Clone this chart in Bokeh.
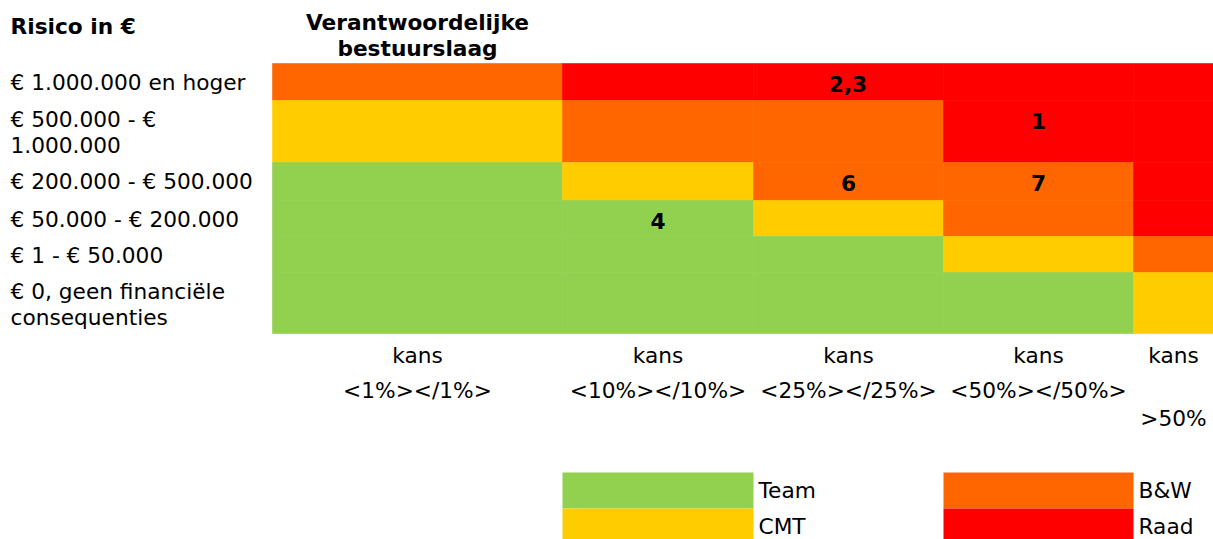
from bokeh.plotting import figure
from bokeh.models import ColumnDataSource, Range1d
from bokeh.core.properties import value
from bokeh.embed import file_html
from bokeh.resources import INLINE

# ---------------- data ----------------
row_labels = [
    "€ 1.000.000 en hoger",
    "€ 500.000 - €\n1.000.000",
    "€ 200.000 - € 500.000",
    "€ 50.000 - € 200.000",
    "€ 1 - € 50.000",
    "€ 0, geen financiële\nconsequenties",
]
col_labels_top = ["kans", "kans", "kans", "kans", "kans"]
col_labels_range = ["<1%></1%>", "<10%></10%>", "<25%></25%>", "<50%></50%>", ">50%"]

levels = ["Team", "CMT", "B&W", "Raad"]
level_colors = {"Team": "#92D050", "CMT": "#FFCC00", "B&W": "#FF6600", "Raad": "#FF0000"}

matrix = [
    ["B&W", "Raad", "Raad", "Raad", "Raad"],
    ["CMT", "B&W", "B&W", "Raad", "Raad"],
    ["Team", "CMT", "B&W", "B&W", "Raad"],
    ["Team", "Team", "CMT", "B&W", "Raad"],
    ["Team", "Team", "Team", "CMT", "B&W"],
    ["Team", "Team", "Team", "Team", "CMT"],
]

# annotations: (row, first col, last col, text)
annotations = [
    (0, 1, 3, "2,3"),
    (1, 3, 3, "1"),
    (2, 2, 2, "6"),
    (2, 3, 3, "7"),
    (3, 1, 1, "4"),
]

title_left = "Risico in €"
title_mid = "Verantwoordelijke\nbestuurslaag"

# ---------------- layout (screen px) ----------------
M = 0
W, H = 1213, 539
col_edges = [272, 562, 753, 943, 1133, 1213]
row_edges = [63, 100, 162, 200, 236, 272, 333]
TXT_OFF = 19      # text line centre below top of a row
LINE_H = 25.5
FONT = value("DejaVu Sans")
FS = "21.7px"

def sx(x):
    return x - M

def sy(y):
    return y - M

p = figure(width=W, height=H, output_backend="svg", toolbar_location=None,
           x_range=Range1d(0, W), y_range=Range1d(H, 0),
           min_border=0, min_border_left=0, min_border_right=0,
           min_border_top=0, min_border_bottom=0)
p.axis.visible = False
p.grid.visible = False
p.outline_line_color = None
p.background_fill_color = "white"
p.border_fill_color = "white"

# cells
L, R, T, B, C = [], [], [], [], []
for r, row in enumerate(matrix):
    for c, lev in enumerate(row):
        L.append(sx(col_edges[c])); R.append(sx(col_edges[c + 1]))
        T.append(sy(row_edges[r])); B.append(sy(row_edges[r + 1]))
        C.append(level_colors[lev])
p.quad(left="l", right="r", top="t", bottom="b", fill_color="c", line_color="c",
       line_width=0.6, source=ColumnDataSource(dict(l=L, r=R, t=T, b=B, c=C)))

def add_text(xs, ys, texts, align="left", bold=False):
    p.text(x=xs, y=ys, text=texts, text_font=FONT, text_font_size=FS,
           text_align=align, text_baseline="middle", text_color="#000000",
           text_font_style="bold" if bold else "normal")

# row labels
xs, ys, ts = [], [], []
for r, lab in enumerate(row_labels):
    for i, line in enumerate(lab.split("\n")):
        xs.append(sx(10)); ys.append(sy(row_edges[r] + TXT_OFF + i * LINE_H)); ts.append(line)
add_text(xs, ys, ts)

# titles
add_text([sx(10)], [sy(26)], [title_left], bold=True)
tx, ty, tt = [], [], []
for i, line in enumerate(title_mid.split("\n")):
    tx.append(sx((col_edges[0] + col_edges[1]) / 2)); ty.append(sy(22 + i * LINE_H)); tt.append(line)
add_text(tx, ty, tt, align="center", bold=True)

# annotations
ax, ay, at = [], [], []
for r, c0, c1, t in annotations:
    ax.append(sx((col_edges[c0] + col_edges[c1 + 1]) / 2))
    ay.append(sy(row_edges[r] + TXT_OFF + 1))
    at.append(t)
add_text(ax, ay, at, align="center", bold=True)

# column labels
line2_y = [390, 390, 390, 390, 418]
bx, by, bt = [], [], []
for c in range(5):
    cx = sx((col_edges[c] + col_edges[c + 1]) / 2)
    bx += [cx, cx]
    by += [sy(355), sy(line2_y[c])]
    bt += [col_labels_top[c], col_labels_range[c]]
add_text(bx, by, bt, align="center")

# legend
leg_cols = [(562, 753), (562, 753), (943, 1133), (943, 1133)]
leg_rows = [(472, 508), (508, 540), (472, 508), (508, 540)]
p.quad(left=[sx(a) for a, b in leg_cols], right=[sx(b) for a, b in leg_cols],
       top=[sy(a) for a, b in leg_rows], bottom=[sy(b) for a, b in leg_rows],
       fill_color=[level_colors[l] for l in levels], line_color=None)
add_text([sx(b + 5) for a, b in leg_cols], [sy(a + 18) for a, b in leg_rows], levels)

open("out.html", "w").write(file_html(p, INLINE))
